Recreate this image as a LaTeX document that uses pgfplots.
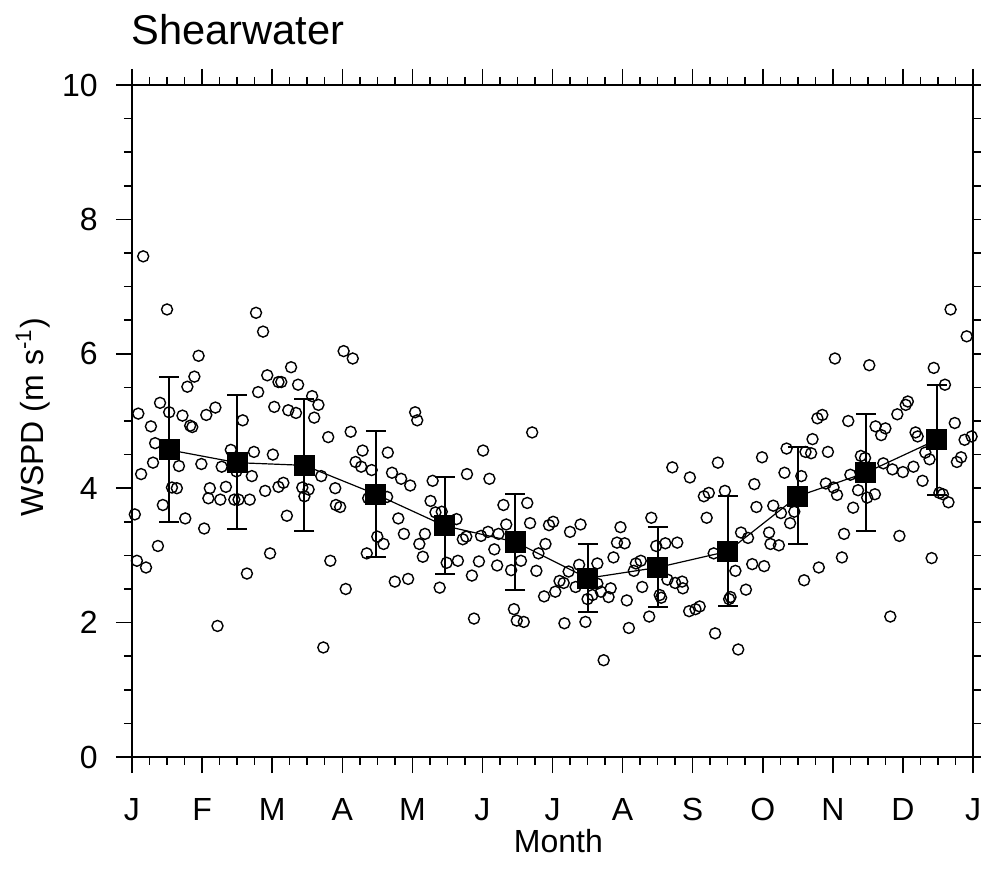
\documentclass[border=0pt]{standalone}
\usepackage{fontspec}
\setmainfont{Liberation Sans}
\usepackage{pgfplots}
\pgfplotsset{compat=1.18}
\begin{document}
\begin{tikzpicture}
\pgfplotsset{
  base/.style={
    scale only axis, width=420.5pt, height=336pt,
    xmin=0, xmax=12, ymin=0, ymax=10,
    axis line style={line width=0.9pt},
    tick style={line width=0.75pt, black},
    tick align=outside,
    major tick length=8pt, minor tick length=4pt,
    clip=false,
  }
}
\begin{axis}[base,
  xtick={0,...,12},
  xticklabels={J,F,M,A,M,J,J,A,S,O,N,D,J},
  minor x tick num=3,
  ytick={0,2,...,10}, minor y tick num=3,
  ytick pos=left, xtick pos=both, xticklabel pos=bottom,
  ticklabel style={font=\fontsize{16}{19}\selectfont},
  xticklabel style={anchor=base, inner sep=0pt, yshift=-31.5pt+8pt},
  yticklabel style={anchor=east, inner sep=0pt, xshift=-17pt+8pt},
  /pgf/number format/assume math mode=true,
  xlabel={Month},
  xlabel style={font=\fontsize{16}{19}\selectfont, inner sep=0pt, at={(axis description cs:0.507,-0.1245)}, anchor=center},
  ylabel={WSPD (m s\textsuperscript{-1})},
  ylabel style={font=\fontsize{16}{19}\selectfont, inner sep=0pt, at={(axis description cs:-0.1177,0.505)}, anchor=center},
  title={Shearwater},
  title style={font=\fontsize{20.8}{25}\selectfont, at={(axis description cs:-0.001,1.043)}, anchor=base west, inner sep=0pt},
]
\addplot[only marks, mark=o, mark size=2.75pt, mark options={line width=0.7pt, black}] table {
x y
0.16 7.45
0.50 6.66
1.77 6.61
1.87 6.33
0.95 5.97
1.93 5.68
0.89 5.66
0.79 5.51
2.09 5.58
1.80 5.43
0.40 5.27
0.09 5.11
0.53 5.13
1.19 5.20
1.06 5.09
0.72 5.08
2.03 5.21
1.58 5.01
0.27 4.92
0.83 4.93
0.86 4.91
0.33 4.67
1.41 4.57
1.74 4.54
2.01 4.50
0.30 4.38
0.99 4.36
0.67 4.33
1.28 4.32
0.13 4.21
1.71 4.18
1.49 4.25
0.57 4.01
0.64 4.00
1.11 4.00
1.34 4.02
2.09 4.02
1.90 3.96
1.09 3.85
1.26 3.83
1.46 3.83
1.52 3.83
1.68 3.83
0.44 3.75
0.04 3.61
0.76 3.55
1.03 3.40
0.37 3.14
1.97 3.03
0.07 2.92
0.20 2.82
1.64 2.73
1.22 1.95
3.02 6.04
3.15 5.93
2.27 5.80
2.13 5.58
2.37 5.54
2.57 5.37
2.66 5.24
2.23 5.16
2.34 5.12
2.60 5.05
4.04 5.13
4.07 5.01
2.80 4.76
3.12 4.84
3.29 4.56
3.65 4.53
3.19 4.39
3.27 4.32
3.42 4.27
3.71 4.23
3.84 4.14
3.97 4.04
2.70 4.18
2.16 4.08
2.43 4.01
2.52 3.98
2.46 3.88
2.90 4.00
2.91 3.75
2.97 3.72
2.21 3.59
3.64 3.87
3.37 3.85
3.80 3.55
3.88 3.32
3.50 3.28
3.59 3.17
3.35 3.03
4.18 3.32
4.10 3.17
4.15 2.98
2.83 2.92
3.75 2.61
3.94 2.65
3.05 2.50
2.73 1.63
5.71 4.83
5.01 4.56
4.78 4.21
5.10 4.14
4.29 4.11
4.26 3.81
4.33 3.64
4.42 3.65
5.30 3.75
5.64 3.78
4.63 3.54
5.34 3.46
5.68 3.48
5.95 3.45
6.01 3.50
4.72 3.24
4.77 3.28
4.98 3.29
5.08 3.35
5.23 3.32
5.17 3.09
5.90 3.17
5.80 3.03
6.25 3.35
4.49 2.89
4.65 2.92
4.95 2.91
5.21 2.85
5.41 2.78
5.55 2.92
5.77 2.77
4.85 2.70
4.39 2.52
6.23 2.76
6.10 2.62
6.16 2.59
6.04 2.46
5.88 2.39
5.45 2.20
5.49 2.03
5.59 2.01
4.88 2.06
6.17 1.99
7.71 4.31
7.96 4.16
8.16 3.88
8.23 3.93
8.36 4.38
8.20 3.56
7.41 3.56
6.40 3.46
6.97 3.42
6.92 3.19
7.03 3.18
7.48 3.14
7.61 3.18
7.78 3.19
6.87 2.97
6.64 2.88
6.38 2.86
7.19 2.88
7.26 2.92
7.16 2.77
6.33 2.53
6.64 2.58
6.83 2.51
6.69 2.46
6.57 2.41
6.50 2.35
6.80 2.38
7.28 2.53
7.64 2.64
7.75 2.59
7.85 2.61
7.86 2.51
7.06 2.33
7.53 2.41
7.55 2.37
7.95 2.17
8.04 2.20
8.10 2.24
7.38 2.09
6.47 2.01
7.09 1.92
8.32 1.84
6.73 1.44
8.30 3.03
10.03 5.93
9.78 5.04
9.85 5.09
10.22 5.00
8.99 4.46
9.34 4.59
9.71 4.73
9.61 4.54
9.69 4.52
9.93 4.54
9.31 4.23
9.55 4.18
8.88 4.06
8.46 3.96
9.90 4.07
10.01 4.01
10.06 3.90
10.25 4.20
10.36 3.97
8.91 3.72
9.15 3.74
9.26 3.63
9.45 3.65
9.39 3.48
10.29 3.71
8.69 3.34
8.79 3.26
9.09 3.34
9.11 3.17
9.23 3.15
10.16 3.32
8.85 2.87
9.02 2.84
8.61 2.77
10.13 2.97
9.80 2.82
9.59 2.63
8.76 2.49
8.54 2.38
8.52 2.35
8.65 1.60
11.68 6.66
11.91 6.26
10.52 5.83
11.44 5.79
11.60 5.54
11.07 5.29
11.04 5.24
10.92 5.10
10.61 4.92
10.75 4.89
10.69 4.79
11.74 4.97
11.18 4.83
11.21 4.77
11.88 4.72
11.98 4.77
11.32 4.53
11.38 4.43
10.40 4.48
10.46 4.45
11.83 4.46
11.77 4.39
10.72 4.37
10.85 4.28
11.00 4.24
11.15 4.32
11.28 4.11
10.49 3.86
10.60 3.91
11.52 3.93
11.57 3.91
11.65 3.79
10.95 3.29
11.41 2.96
10.82 2.09
};
\addplot[black, line width=0.6pt, mark=square*, mark size=5pt,
  mark options={solid, fill=black},
  error bars/.cd, y dir=both, y explicit,
  error mark=|, error bar style={line width=1pt, black},
  error mark options={line width=1pt, mark size=5pt, black}]
  table[x=x, y=y, y error plus=ep, y error minus=em] {
x y ep em
0.53 4.57 1.08 1.07
1.50 4.38 1.00 0.99
2.46 4.34 0.98 0.98
3.48 3.91 0.94 0.94
4.46 3.44 0.72 0.72
5.47 3.20 0.72 0.72
6.50 2.66 0.51 0.50
7.50 2.82 0.60 0.59
8.50 3.06 0.83 0.82
9.50 3.88 0.73 0.71
10.47 4.23 0.87 0.87
11.48 4.72 0.82 0.82
};
\end{axis}
\begin{axis}[base,
  axis x line=none, axis y line*=right,
  ytick={0,0.5,...,10}, yticklabels={},
  major tick length=4pt,
]
\addplot[draw=none] coordinates {(0,0)};
\end{axis}
\pgfresetboundingbox
\path[use as bounding box] ([xshift=-66pt,yshift=-63.5pt]current axis.south west) rectangle ([xshift=4pt,yshift=42.5pt]current axis.north east);
\end{tikzpicture}
\end{document}
